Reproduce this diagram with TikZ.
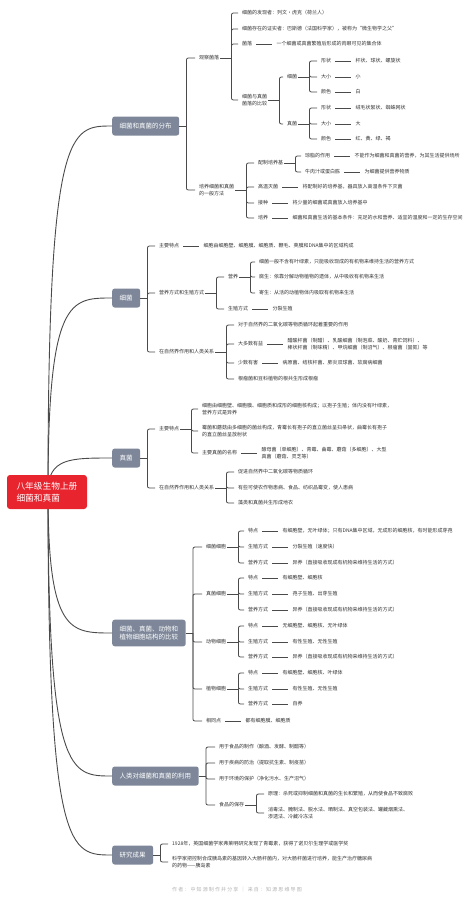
\documentclass[tikz,border=0pt]{standalone}
\usepackage{fontspec}
\setmainfont{Noto Sans CJK SC}
\usetikzlibrary{positioning,calc}
\definecolor{rootred}{HTML}{E8242F}
\definecolor{topicgray}{HTML}{7D8799}
\definecolor{linegray}{HTML}{4A4A4A}
\definecolor{txtgray}{HTML}{333333}
\definecolor{footgray}{HTML}{B4B4B4}
\begin{document}
\begin{tikzpicture}[
                    x=1pt, y=-1pt,
                    node distance=22pt,
                    rootbox/.style={fill=rootred, text=white, rounded corners=3pt, align=left,
                                    font=\fontsize{8.7}{12.5}\selectfont, minimum width=80pt, minimum height=34pt},
                    topic/.style={fill=topicgray, text=white, rounded corners=2.5pt, align=center, anchor=west,
                                  font=\fontsize{6.5}{8.5}\selectfont, inner xsep=7.5pt, inner ysep=6pt, minimum height=19pt},
                    item/.style={text=txtgray, font=\fontsize{5}{7}\selectfont, inner sep=1pt, align=left, anchor=west},
                    br/.style={draw=linegray, line width=0.8pt, rounded corners=2pt},
                    dl/.style={draw=linegray, line width=0.8pt, shorten <=3pt, shorten >=3pt},
                    limb/.style={draw=linegray, line width=0.9pt}
                    ]
    \useasboundingbox (0,0) rectangle (474,902);
    \fill[white] (0,0) rectangle (474,902);

    % topics
    \node[topic] (dist) at (112,126) {细菌和真菌的分布};
    \node[topic] (bact) at (112,298) {细菌};
    \node[topic] (fung) at (112,458) {真菌};
    \node[topic] (comp) at (112,633) {细菌、真菌、动物和\\植物细胞结构的比较};
    \node[topic] (use) at (112,776) {人类对细菌和真菌的利用};
    \node[topic] (res) at (112,855) {研究成果};

    % 细菌和真菌的分布
    \node[item] (d1) at (198,58) {观察菌落};
    \node[item] (d1a) at (241,13) {细菌的发现者：列文·虎克（荷兰人）};
    \node[item] (d1b) at (241,29) {细菌存在的证实者：巴斯德（法国科学家），被称为“微生物学之父”};
    \node[item] (d1c) at (241,44) {菌落};
    \node[item, right=of d1c] (d1c-v) {一个细菌或真菌繁殖后形成的肉眼可见的集合体};
    \node[item] (d1d) at (241,100) {细菌与真菌\\菌落的比较};
    \node[item] (d1e) at (286,77) {细菌};
    \node[item] (d1e1) at (320,61) {形状};
    \node[item] (d1e2) at (320,77) {大小};
    \node[item] (d1e3) at (320,92) {颜色};
    \node[item, right=of d1e1] (d1e1-v) {杆状、球状、螺旋状};
    \node[item, right=of d1e2] (d1e2-v) {小};
    \node[item, right=of d1e3] (d1e3-v) {白};
    \node[item] (d1f) at (286,124) {真菌};
    \node[item] (d1f1) at (320,108) {形状};
    \node[item] (d1f2) at (320,124) {大小};
    \node[item] (d1f3) at (320,139) {颜色};
    \node[item, right=of d1f1] (d1f1-v) {绒毛状絮状、蜘蛛网状};
    \node[item, right=of d1f2] (d1f2-v) {大};
    \node[item, right=of d1f3] (d1f3-v) {红、黄、绿、褐};
    \node[item] (d2) at (198,190) {培养细菌和真菌\\的一般方法};
    \node[item] (d2a) at (257,163) {配制培养基};
    \node[item] (d2a1) at (304,156) {琼脂的作用};
    \node[item] (d2a2) at (304,172) {牛肉汁或蛋白胨};
    \node[item, right=of d2a1] (d2a1-v) {不能作为细菌和真菌的营养，为其生活提供场所};
    \node[item, right=of d2a2] (d2a2-v) {为细菌提供营养物质};
    \node[item] (d2b) at (257,187) {高温灭菌};
    \node[item, right=of d2b] (d2b-v) {将配制好的培养基，器具放入高温条件下灭菌};
    \node[item] (d2c) at (257,203) {接种};
    \node[item, right=of d2c] (d2c-v) {将少量的细菌或真菌放入培养基中};
    \node[item] (d2d) at (257,218) {培养};
    \node[item, right=of d2d] (d2d-v) {细菌和真菌生活的基本条件：充足的水和营养、适宜的温度和一定的生存空间};

    % 细菌
    \node[item] (b1) at (158,246) {主要特点};
    \node[item, right=of b1] (b1-v) {细胞由细胞壁、细胞膜、细胞质、鞭毛、荚膜和DNA集中的区域构成};
    \node[item] (b2) at (158,293) {营养方式和生殖方式};
    \node[item] (b2a) at (227,277) {营养};
    \node[item] (b2a1) at (258,262) {细菌一般不含有叶绿素，只能吸收现成的有机物来维持生活的营养方式};
    \node[item] (b2a2) at (258,277) {腐生：依靠分解动物植物的遗体，从中吸收有机物来生活};
    \node[item] (b2a3) at (258,293) {寄生：从活的动植物体内吸取有机物来生活};
    \node[item] (b2b) at (227,309) {生殖方式};
    \node[item, right=of b2b] (b2b-v) {分裂生殖};
    \node[item] (b3) at (158,352) {在自然界作用和人类关系};
    \node[item] (b3a) at (237,325) {对于自然界的二氧化碳等物质循环起着重要的作用};
    \node[item] (b3b) at (237,344) {大多数有益};
    \node[item, right=of b3b] (b3b-v) {醋酸杆菌（制醋）、乳酸细菌（制泡菜、酸奶、青贮饲料）、\\棒状杆菌（制味精）、甲烷细菌（制沼气）、根瘤菌（固氮）等};
    \node[item] (b3c) at (237,363) {少数有害};
    \node[item, right=of b3c] (b3c-v) {病原菌、结核杆菌、肺炎双球菌、软腐病细菌};
    \node[item] (b3d) at (237,379) {根瘤菌和豆科植物的根共生形成根瘤};

    % 真菌
    \node[item] (f1) at (158,429) {主要特点};
    \node[item] (f1a) at (201,409) {细胞由细胞壁、细胞膜、细胞质和成形的细胞核构成；以孢子生殖；体内没有叶绿素，\\营养方式是异养};
    \node[item] (f1b) at (201,431) {霉菌和蘑菇由多细胞的菌丝构成，青霉长有孢子的直立菌丝呈扫帚状，曲霉长有孢子\\的直立菌丝呈放射状};
    \node[item] (f1c) at (201,453) {主要真菌的名称};
    \node[item, right=of f1c] (f1c-v) {酵母菌（单细胞）、青霉、曲霉、蘑菇（多细胞）、大型\\真菌（蘑菇、灵芝等）};
    \node[item] (f2) at (158,488) {在自然界作用和人类关系};
    \node[item] (f2a) at (237,472) {促进自然界中二氧化碳等物质循环};
    \node[item] (f2b) at (237,488) {有些可使农作物患病、食品、纺织品霉变，使人患病};
    \node[item] (f2c) at (237,503) {藻类和真菌共生形成地衣};

    % 细胞结构的比较
    \node[item] (c1) at (205,547) {细菌细胞};
    \node[item] (c1a) at (247,531) {特点};
    \node[item] (c1b) at (247,547) {生殖方式};
    \node[item] (c1c) at (247,563) {营养方式};
    \node[item, right=of c1a] (c1a-v) {有细胞壁，无叶绿体；只有DNA集中区域，无成形的细胞核，有时能形成芽孢};
    \node[item, right=of c1b] (c1b-v) {分裂生殖（速度快）};
    \node[item, right=of c1c] (c1c-v) {异养（直接吸收现成有机物来维持生活的方式）};
    \node[item] (c2) at (205,594) {真菌细胞};
    \node[item] (c2a) at (247,578) {特点};
    \node[item] (c2b) at (247,594) {生殖方式};
    \node[item] (c2c) at (247,610) {营养方式};
    \node[item, right=of c2a] (c2a-v) {有细胞壁、细胞核};
    \node[item, right=of c2b] (c2b-v) {孢子生殖、出芽生殖};
    \node[item, right=of c2c] (c2c-v) {异养（直接吸收现成有机物来维持生活的方式）};
    \node[item] (c3) at (205,642) {动物细胞};
    \node[item] (c3a) at (247,626) {特点};
    \node[item] (c3b) at (247,642) {生殖方式};
    \node[item] (c3c) at (247,657) {营养方式};
    \node[item, right=of c3a] (c3a-v) {无细胞壁、细胞核、无叶绿体};
    \node[item, right=of c3b] (c3b-v) {有性生殖、无性生殖};
    \node[item, right=of c3c] (c3c-v) {异养（直接吸收现成有机物来维持生活的方式）};
    \node[item] (c4) at (205,689) {植物细胞};
    \node[item] (c4a) at (247,673) {特点};
    \node[item] (c4b) at (247,689) {生殖方式};
    \node[item] (c4c) at (247,704) {营养方式};
    \node[item, right=of c4a] (c4a-v) {有细胞壁、细胞核、叶绿体};
    \node[item, right=of c4b] (c4b-v) {有性生殖、无性生殖};
    \node[item, right=of c4c] (c4c-v) {自养};
    \node[item] (c5) at (205,721) {相同点};
    \node[item, right=of c5] (c5-v) {都有细胞膜、细胞质};

    % 利用
    \node[item] (u1) at (218,747) {用于食品的制作（酿酒、发酵、制醋等）};
    \node[item] (u2) at (218,763) {用于疾病的防治（提取抗生素、制疫苗）};
    \node[item] (u3) at (218,779) {用于环境的保护（净化污水、生产沼气）};
    \node[item] (u4) at (218,805) {食品的保存};
    \node[item] (u4a) at (267,794) {原理：杀死或抑制细菌和真菌的生长和繁殖，从而使食品不致腐败};
    \node[item] (u4b) at (267,813) {消毒法、腌制法、脱水法、晒制法、真空包装法、罐藏烟熏法、\\渗透法、冷藏冷冻法};

    % 研究成果
    \node[item] (r1) at (171,844) {1928年，英国细菌学家弗莱明研究发现了青霉素，获得了诺贝尔生理学或医学奖};
    \node[item] (r2) at (171,862) {科学家把控制合成胰岛素的基因转入大肠杆菌内，对大肠杆菌进行培养，能生产治疗糖尿病\\的药物——胰岛素};

    \node[text=footgray, font=\fontsize{5}{6}\selectfont] (foot) at (237,890) {作 者 ： 中 知 源 制 作 并 分 享 \ ｜ \ 来 自 ： 知 源 思 维 导 图};

    % brackets
    \foreach \p/\kids in {dist/{d1,d2}, bact/{b1,b2,b3}, fung/{f1,f2},
                          comp/{c1,c2,c3,c4,c5}, use/{u1,u2,u3,u4}, res/{r1,r2}}{
        \coordinate (\p-f) at ([xshift=7pt]\p.east);
        \draw[br] (\p.east) -- (\p-f);
        \foreach \k in \kids \draw[br] (\p-f) |- ([xshift=-3pt]\k.west);
    }
    \foreach \p/\kids in {d1/{d1a,d1b,d1c,d1d}, d1d/{d1e,d1f}, d1e/{d1e1,d1e2,d1e3}, d1f/{d1f1,d1f2,d1f3},
                          d2/{d2a,d2b,d2c,d2d}, d2a/{d2a1,d2a2},
                          b2/{b2a,b2b}, b2a/{b2a1,b2a2,b2a3}, b3/{b3a,b3b,b3c,b3d},
                          f1/{f1a,f1b,f1c}, f2/{f2a,f2b,f2c},
                          c1/{c1a,c1b,c1c}, c2/{c2a,c2b,c2c}, c3/{c3a,c3b,c3c}, c4/{c4a,c4b,c4c},
                          u4/{u4a,u4b}}{
        \coordinate (\p-f) at ([xshift=11pt]\p.east);
        \draw[br] (\p.east) -- (\p-f);
        \foreach \k in \kids \draw[br] (\p-f) |- ([xshift=-3pt]\k.west);
    }
    \foreach \a in {d1c,d1e1,d1e2,d1e3,d1f1,d1f2,d1f3,d2a1,d2a2,d2b,d2c,d2d,
                    b1,b2b,b3b,b3c,f1c,c1a,c1b,c1c,c2a,c2b,c2c,c3a,c3b,c3c,c4a,c4b,c4c,c5}
        \draw[dl] (\a.east) -- (\a-v.west);

    % limbs from the root
    \coordinate (hub) at (48,492);
    \foreach \t in {dist,bact,fung,comp,use,res}
        \draw[limb] (hub) .. controls (hub |- \t.west) and ([xshift=-42pt]\t.west) .. (\t.west);

    \node[rootbox] (root) at (47,492) {八年级生物上册\\细菌和真菌};
\end{tikzpicture}
\end{document}
